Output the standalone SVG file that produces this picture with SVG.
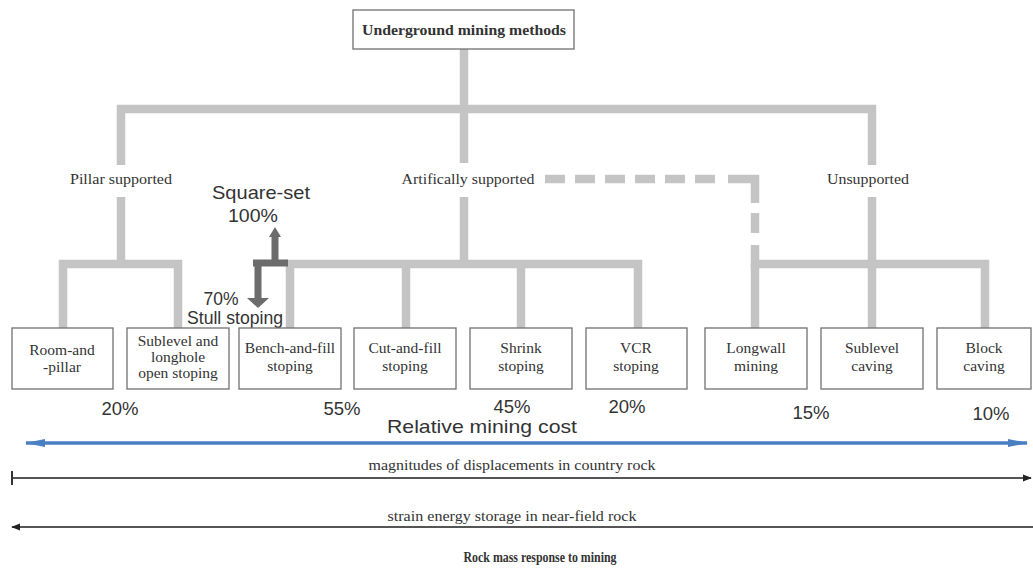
<svg xmlns="http://www.w3.org/2000/svg" width="1033" height="576" viewBox="0 0 1033 576">
<defs>
<style>
.tree{fill:none;stroke:#c4c4c4;stroke-width:8.5;stroke-linecap:butt;stroke-linejoin:miter}
.box{fill:#fff;stroke:#707070;stroke-width:1.3}
.serif{font-family:"Liberation Serif","Times New Roman",serif;fill:#333;font-size:15.5px;text-anchor:middle}
.sans{font-family:"Liberation Sans",Arial,sans-serif;fill:#333;font-size:18.5px;text-anchor:middle}
.dark{fill:none;stroke:#6c6c6c;stroke-width:7;stroke-linejoin:miter}
.rline{stroke:#555;stroke-width:2.2;fill:none}
</style>
<marker id="blueHead" viewBox="0 0 20 10" refX="19" refY="5" markerWidth="20" markerHeight="10" markerUnits="userSpaceOnUse" orient="auto-start-reverse">
<path d="M0,1 L20,5 L0,9 Z" fill="#4a7fc4"/>
</marker>
<marker id="blackHead" viewBox="0 0 10 10" refX="9" refY="5" markerWidth="9" markerHeight="9" markerUnits="userSpaceOnUse" orient="auto-start-reverse">
<path d="M0,1 L10,5 L0,9 Z" fill="#222"/>
</marker>
<marker id="tick" viewBox="0 0 4 14" refX="2" refY="7" markerWidth="4" markerHeight="14" markerUnits="userSpaceOnUse" orient="auto">
<rect x="1" y="0" width="2" height="14" fill="#333"/>
</marker>
</defs>
<rect x="0" y="0" width="1033" height="576" fill="#fff"/>

<g id="connectors">
<path class="tree" d="M464,49 V163"/>
<path class="tree" d="M121,165 V109 H872 V165"/>
<path class="tree" d="M121,197 V264"/>
<path class="tree" d="M63,328 V264 H178 V328"/>
<path class="tree" d="M464,197 V264"/>
<path class="tree" d="M290,328 V264 H638 V328"/>
<path class="tree" d="M406,264 V328"/>
<path class="tree" d="M521,264 V328"/>
<path class="tree" d="M872,197 V328"/>
<path class="tree" d="M755,245 V264 H985 V328"/>
<path class="tree" d="M755,264 V328"/>
<path class="tree" d="M545,179 H725" stroke-dasharray="20 10"/>
<path class="tree" d="M728,179 H755 V203"/>
<path class="tree" d="M755,213 V233"/>
</g>

<g id="square-set-arrows">
<path class="dark" d="M275,236 V263 M253,263 H288 M258,263 V299"/>
<polygon points="275,227 281,237 269,237" fill="#6c6c6c"/>
<polygon points="258,308 247,298 269,298" fill="#6c6c6c"/>
<text class="sans" x="261" y="199" textLength="98" lengthAdjust="spacingAndGlyphs">Square-set</text>
<text class="sans" x="253" y="222" textLength="50" lengthAdjust="spacingAndGlyphs">100%</text>
<text class="sans" x="221" y="305" textLength="35" lengthAdjust="spacingAndGlyphs">70%</text>
<text class="sans" x="235" y="324" textLength="96" lengthAdjust="spacingAndGlyphs">Stull stoping</text>
</g>

<g id="root">
<rect class="box" x="353" y="10" width="221" height="39"/>
<text class="serif" x="464" y="35" font-weight="bold" font-size="15" fill="#111" textLength="204" lengthAdjust="spacingAndGlyphs">Underground mining methods</text>
</g>

<g id="pillar-supported"><text class="serif" x="121" y="184" font-size="14" textLength="102" lengthAdjust="spacingAndGlyphs">Pillar supported</text></g>
<g id="artificially-supported"><text class="serif" x="468" y="184" font-size="14" textLength="133" lengthAdjust="spacingAndGlyphs">Artifically supported</text></g>
<g id="unsupported"><text class="serif" x="868" y="184" font-size="14" textLength="82" lengthAdjust="spacingAndGlyphs">Unsupported</text></g>

<g id="room-and-pillar">
<rect class="box" x="12" y="328" width="101" height="61"/>
<text class="serif" x="62" y="355">Room-and</text>
<text class="serif" x="62" y="372">-pillar</text>
</g>
<g id="sublevel-open-stoping">
<rect class="box" x="127" y="328" width="102" height="61"/>
<text class="serif" x="178" y="346">Sublevel and</text>
<text class="serif" x="178" y="362">longhole</text>
<text class="serif" x="178" y="378">open stoping</text>
</g>
<g id="bench-and-fill">
<rect class="box" x="239" y="328" width="102" height="61"/>
<text class="serif" x="290" y="353">Bench-and-fill</text>
<text class="serif" x="290" y="371">stoping</text>
</g>
<g id="cut-and-fill">
<rect class="box" x="354" y="328" width="102" height="61"/>
<text class="serif" x="405" y="353">Cut-and-fill</text>
<text class="serif" x="405" y="371">stoping</text>
</g>
<g id="shrink">
<rect class="box" x="470" y="328" width="102" height="61"/>
<text class="serif" x="521" y="353">Shrink</text>
<text class="serif" x="521" y="371">stoping</text>
</g>
<g id="vcr">
<rect class="box" x="586" y="328" width="101" height="61"/>
<text class="serif" x="636" y="353">VCR</text>
<text class="serif" x="636" y="371">stoping</text>
</g>
<g id="longwall">
<rect class="box" x="705" y="328" width="102" height="61"/>
<text class="serif" x="756" y="353">Longwall</text>
<text class="serif" x="756" y="371">mining</text>
</g>
<g id="sublevel-caving">
<rect class="box" x="821" y="328" width="102" height="61"/>
<text class="serif" x="872" y="353">Sublevel</text>
<text class="serif" x="872" y="371">caving</text>
</g>
<g id="block-caving">
<rect class="box" x="937" y="328" width="94" height="61"/>
<text class="serif" x="984" y="353">Block</text>
<text class="serif" x="984" y="371">caving</text>
</g>

<g id="percentages">
<text class="sans" x="120" y="415">20%</text>
<text class="sans" x="342" y="415">55%</text>
<text class="sans" x="512" y="413">45%</text>
<text class="sans" x="627" y="413">20%</text>
<text class="sans" x="811" y="419">15%</text>
<text class="sans" x="991" y="420">10%</text>
</g>

<g id="relative-mining-cost">
<text class="sans" x="482" y="433" textLength="190" lengthAdjust="spacingAndGlyphs">Relative mining cost</text>
<line x1="26" y1="443" x2="1027" y2="443" stroke="#4a7fc4" stroke-width="3.5" marker-start="url(#blueHead)" marker-end="url(#blueHead)"/>
</g>

<g id="rock-mass-response">
<text class="serif" x="512" y="470" font-size="13.5" textLength="287" lengthAdjust="spacingAndGlyphs">magnitudes of displacements in country rock</text>
<line class="rline" x1="12" y1="478" x2="1031" y2="478" marker-start="url(#tick)" marker-end="url(#blackHead)"/>
<text class="serif" x="512" y="521" font-size="13.5" textLength="249" lengthAdjust="spacingAndGlyphs">strain energy storage in near-field rock</text>
<line class="rline" x1="12" y1="527" x2="1033" y2="527" marker-start="url(#blackHead)"/>
<text class="serif" x="540" y="562" font-weight="bold" font-size="15" fill="#111" textLength="153" lengthAdjust="spacingAndGlyphs">Rock mass response to mining</text>
</g>
</svg>
